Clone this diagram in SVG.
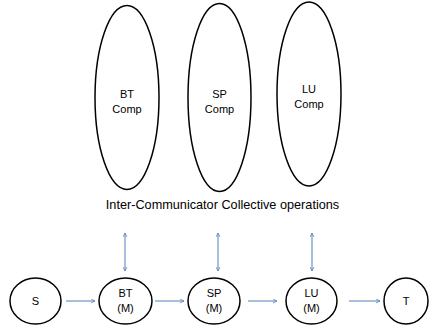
<svg xmlns="http://www.w3.org/2000/svg" width="429" height="326" viewBox="0 0 429 326">
  <style>
    .node { fill: #ffffff; stroke: #000000; stroke-width: 1.5; }
    .label { font-family: "Liberation Sans", Arial, sans-serif; font-size: 11px; fill: #000000; text-anchor: middle; }
    .title { font-family: "Liberation Sans", Arial, sans-serif; font-size: 12.7px; fill: #000000; text-anchor: middle; }
    .edge { stroke: #4f81bd; stroke-width: 1; fill: none; }
  </style>
  <defs>
    <marker id="head" viewBox="0 0 10 10" refX="9" refY="5" markerWidth="5" markerHeight="5" orient="auto-start-reverse" markerUnits="userSpaceOnUse">
      <path d="M1,1 L9,5 L1,9" fill="none" stroke="#4f81bd" stroke-width="1.5"/>
    </marker>
  </defs>
  <rect width="429" height="326" fill="#ffffff"/>

  <!-- compute groups -->
  <g id="bt-comp">
    <ellipse class="node" cx="127" cy="97.5" rx="32" ry="92"/>
    <text class="label" x="127" y="98">BT</text>
    <text class="label" x="127" y="113">Comp</text>
  </g>
  <g id="sp-comp">
    <ellipse class="node" cx="219.5" cy="97.5" rx="31.5" ry="94"/>
    <text class="label" x="219.5" y="98">SP</text>
    <text class="label" x="219.5" y="113">Comp</text>
  </g>
  <g id="lu-comp">
    <ellipse class="node" cx="309" cy="94" rx="32" ry="92"/>
    <text class="label" x="309" y="93">LU</text>
    <text class="label" x="309" y="108">Comp</text>
  </g>

  <text class="title" x="222.5" y="209">Inter-Communicator Collective operations</text>

  <!-- pipeline -->
  <g id="s">
    <ellipse class="node" cx="35.5" cy="301" rx="25.5" ry="23"/>
    <text class="label" x="35.5" y="305">S</text>
  </g>
  <g id="bt-m">
    <ellipse class="node" cx="125.5" cy="301" rx="26.5" ry="23"/>
    <text class="label" x="125.5" y="297">BT</text>
    <text class="label" x="125.5" y="312">(M)</text>
  </g>
  <g id="sp-m">
    <ellipse class="node" cx="214" cy="301" rx="26" ry="23"/>
    <text class="label" x="214" y="297">SP</text>
    <text class="label" x="214" y="312">(M)</text>
  </g>
  <g id="lu-m">
    <ellipse class="node" cx="311.5" cy="301" rx="25.5" ry="23"/>
    <text class="label" x="311.5" y="297">LU</text>
    <text class="label" x="311.5" y="312">(M)</text>
  </g>
  <g id="t">
    <ellipse class="node" cx="406" cy="301" rx="22" ry="23"/>
    <text class="label" x="406" y="305">T</text>
  </g>

  <g id="connectors">
    <line class="edge" x1="66" y1="301" x2="95" y2="301" marker-end="url(#head)"/>
    <line class="edge" x1="155" y1="301" x2="184" y2="301" marker-end="url(#head)"/>
    <line class="edge" x1="248" y1="301" x2="277" y2="301" marker-end="url(#head)"/>
    <line class="edge" x1="349" y1="301" x2="380" y2="301" marker-end="url(#head)"/>
    <line class="edge" x1="125" y1="233" x2="125" y2="271" marker-start="url(#head)" marker-end="url(#head)"/>
    <line class="edge" x1="218" y1="233" x2="218" y2="271" marker-start="url(#head)" marker-end="url(#head)"/>
    <line class="edge" x1="312" y1="233" x2="312" y2="271" marker-start="url(#head)" marker-end="url(#head)"/>
  </g>
</svg>
